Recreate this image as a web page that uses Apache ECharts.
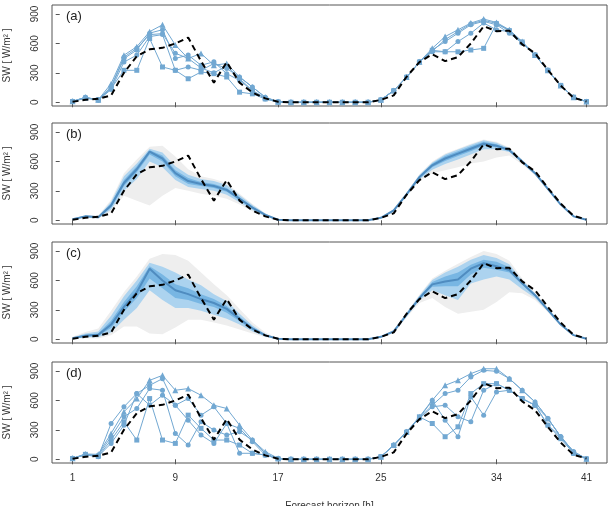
<!DOCTYPE html>
<html>
<head>
<meta charset="utf-8">
<script src="https://cdn.jsdelivr.net/npm/echarts@6/dist/echarts.min.js"></script>
<style>
  html, body { margin: 0; padding: 0; background: #fff; }
  #chart { width: 612px; height: 506px; }
</style>
</head>
<body>
<div id="chart"></div>
<script>
const hours = [1, 2, 3, 4, 5, 6, 7, 8, 9, 10, 11, 12, 13, 14, 15, 16, 17, 18, 19, 20, 21,
  22, 23, 24, 25, 26, 27, 28, 29, 30, 31, 32, 33, 34, 35, 36, 37, 38, 39, 40, 41];
const xTicks = [1, 9, 17, 25, 34, 41];
const yTicks = [0, 300, 600, 900];
const panelLabels = ['(a)', '(b)', '(c)', '(d)'];

// observed SW (dashed black)
const observed = [5, 25, 35, 70, 300, 470, 540, 555, 600, 660, 420, 200, 410, 200, 100, 40, 5,
  0, 0, 0, 0, 0, 0, 0,
  24, 70, 260, 410, 490, 420, 460, 600, 775, 725, 730, 590, 500, 330, 170, 45, 8];

// (a) ensemble members
const membersA = [
  [10, 50, 25, 190, 480, 567, 720, 790, 584, 447, 498, 378, 395, 258, 155, 52, 5,
    0, 0, 0, 0, 0, 0, 0,
    25, 120, 258, 412, 550, 670, 739, 808, 849, 814, 739, 619, 481, 326, 172, 52, 7],
  [10, 45, 25, 150, 445, 533, 705, 740, 447, 481, 378, 412, 292, 223, 120, 34, 3,
    0, 0, 0, 0, 0, 0, 0,
    24, 118, 255, 410, 533, 619, 704, 790, 825, 790, 704, 601, 481, 326, 172, 52, 7],
  [8, 50, 20, 130, 410, 481, 670, 690, 326, 360, 326, 395, 344, 258, 155, 52, 5,
    0, 0, 0, 0, 0, 0, 0,
    24, 120, 258, 412, 515, 515, 619, 704, 808, 739, 720, 610, 481, 326, 172, 52, 7],
  [8, 40, 25, 140, 326, 326, 650, 360, 326, 240, 309, 292, 258, 103, 86, 34, 3,
    0, 0, 0, 0, 0, 0, 0,
    24, 118, 255, 410, 530, 515, 515, 533, 550, 800, 730, 615, 481, 326, 172, 52, 7],
  [10, 50, 25, 160, 460, 550, 690, 700, 500, 447, 350, 300, 370, 240, 120, 45, 4,
    0, 0, 0, 0, 0, 0, 0,
    25, 120, 258, 412, 520, 640, 720, 800, 835, 805, 735, 610, 481, 326, 172, 52, 7]
];

// (b) quantiles
const medB = [10, 40, 30, 150, 380, 520, 700, 630, 480, 400, 370, 350, 310, 220, 130, 55, 5,
  0, 0, 0, 0, 0, 0, 0,
  25, 100, 265, 440, 560, 630, 680, 730, 780, 760, 715, 600, 480, 320, 160, 40, 5];
const hi50B = [12, 45, 35, 170, 410, 550, 715, 660, 510, 430, 390, 370, 330, 235, 140, 60, 6,
  0, 0, 0, 0, 0, 0, 0,
  26, 105, 272, 452, 578, 655, 705, 755, 800, 775, 725, 608, 487, 325, 163, 42, 6];
const lo50B = [8, 35, 25, 130, 350, 490, 670, 600, 450, 370, 350, 330, 290, 205, 120, 50, 4,
  0, 0, 0, 0, 0, 0, 0,
  24, 95, 258, 428, 540, 605, 655, 705, 760, 745, 705, 592, 473, 315, 157, 38, 4];
const hi80B = [14, 50, 40, 190, 450, 580, 730, 690, 550, 465, 420, 400, 360, 255, 155, 68, 8,
  0, 0, 0, 0, 0, 0, 0,
  28, 110, 280, 462, 590, 670, 722, 770, 815, 790, 735, 615, 493, 330, 166, 44, 7];
const lo80B = [6, 30, 20, 110, 300, 420, 600, 540, 410, 340, 320, 300, 260, 185, 105, 42, 2,
  0, 0, 0, 0, 0, 0, 0,
  22, 90, 250, 415, 515, 575, 620, 670, 725, 725, 695, 585, 467, 310, 154, 36, 3];
const hi90B = [16, 55, 45, 210, 480, 620, 750, 760, 650, 520, 450, 420, 380, 270, 165, 72, 10,
  0, 0, 0, 0, 0, 0, 0,
  30, 115, 285, 470, 600, 680, 730, 780, 825, 800, 742, 620, 497, 334, 168, 46, 8];
const lo90B = [4, 25, 15, 90, 250, 200, 150, 250, 330, 300, 270, 250, 220, 160, 90, 35, 0,
  0, 0, 0, 0, 0, 0, 0,
  20, 85, 245, 400, 480, 510, 540, 580, 600, 640, 660, 570, 460, 305, 150, 33, 2];

// (c) quantiles
const medC = [10, 35, 45, 150, 330, 480, 720, 600, 500, 460, 410, 370, 310, 210, 110, 40, 5,
  0, 0, 0, 0, 0, 0, 0,
  25, 80, 250, 420, 560, 590, 610, 720, 775, 745, 705, 570, 450, 300, 150, 42, 5];
const hi50C = [14, 45, 60, 190, 380, 540, 745, 660, 560, 520, 460, 410, 340, 230, 120, 45, 6,
  0, 0, 0, 0, 0, 0, 0,
  27, 85, 258, 430, 585, 640, 680, 760, 810, 790, 735, 585, 458, 305, 153, 44, 6];
const lo50C = [8, 28, 35, 115, 280, 420, 620, 520, 420, 400, 360, 330, 270, 185, 95, 35, 4,
  0, 0, 0, 0, 0, 0, 0,
  23, 75, 242, 410, 535, 540, 540, 660, 730, 710, 680, 555, 442, 295, 147, 40, 4];
const hi80C = [18, 60, 80, 240, 440, 600, 780, 740, 680, 610, 550, 460, 390, 260, 140, 55, 8,
  0, 0, 0, 0, 0, 0, 0,
  30, 92, 268, 445, 605, 680, 740, 810, 860, 830, 765, 600, 466, 312, 157, 46, 7];
const lo80C = [5, 20, 20, 70, 200, 320, 500, 400, 320, 320, 290, 250, 210, 150, 80, 28, 2,
  0, 0, 0, 0, 0, 0, 0,
  20, 68, 232, 395, 500, 450, 400, 570, 610, 640, 610, 510, 420, 285, 140, 37, 3];
const hi90C = [25, 75, 110, 290, 480, 640, 820, 870, 860, 800, 680, 560, 450, 310, 170, 70, 10,
  0, 0, 0, 0, 0, 0, 0,
  32, 96, 275, 455, 620, 700, 770, 840, 900, 870, 800, 620, 475, 318, 160, 48, 8];
const lo90C = [2, 10, 8, 40, 130, 130, 60, 50, 120, 200, 200, 170, 140, 100, 60, 20, 0,
  0, 0, 0, 0, 0, 0, 0,
  18, 62, 222, 370, 420, 330, 260, 280, 300, 380, 480, 470, 400, 275, 135, 34, 2];

// (d) ensemble members
const membersD = [
  [10, 54, 50, 264, 484, 619, 805, 856, 704, 721, 653, 551, 518, 348, 196, 78, 10,
    0, 0, 0, 0, 0, 0, 0,
    27, 145, 281, 433, 602, 754, 805, 873, 923, 923, 822, 704, 585, 416, 230, 78, 5],
  [10, 44, 27, 365, 535, 670, 754, 822, 551, 619, 450, 535, 365, 315, 179, 44, 8,
    0, 0, 0, 0, 0, 0, 0,
    25, 140, 275, 420, 551, 670, 704, 840, 907, 897, 822, 704, 585, 416, 230, 78, 5],
  [8, 50, 40, 230, 433, 518, 721, 704, 264, 145, 382, 298, 247, 281, 196, 61, 5,
    0, 0, 0, 0, 0, 0, 0,
    27, 145, 281, 416, 535, 551, 433, 382, 704, 771, 704, 619, 551, 348, 230, 60, 4],
  [8, 50, 30, 196, 382, 196, 619, 196, 162, 450, 315, 196, 196, 145, 61, 44, 5,
    0, 0, 0, 0, 0, 0, 0,
    27, 140, 275, 433, 365, 230, 331, 670, 771, 771, 704, 619, 551, 348, 210, 60, 4],
  [10, 44, 30, 162, 348, 670, 551, 653, 551, 399, 247, 162, 365, 61, 61, 44, 5,
    0, 0, 0, 0, 0, 0, 0,
    25, 145, 281, 420, 602, 399, 230, 636, 450, 687, 704, 619, 551, 416, 230, 78, 5]
];

const memberSymbols = ['triangle', 'circle', 'circle', 'rect', 'circle'];
const memberColor = '#72a8d2';
const panelTops = [5, 123, 242, 362];
const panelHeight = 101;
const font = 'Liberation Sans';

const pairs = arr => arr.map((v, i) => [hours[i], v]);

const grids = panelTops.map(t => ({
  left: 52, right: 5, top: t, height: panelHeight,
  outerBoundsMode: 'none', containLabel: false,
  show: true, borderColor: '#555', borderWidth: 1
}));

const xAxes = panelTops.map((t, i) => ({
  type: 'value', gridIndex: i, min: -0.6, max: 42.6,
  axisLine: { show: false },
  splitLine: { show: false },
  axisTick: { show: true, length: 5, customValues: xTicks, lineStyle: { color: '#555' } },
  axisLabel: {
    show: i === 3, customValues: xTicks, margin: 10,
    fontFamily: font, fontSize: 10, color: '#333'
  },
  name: i === 3 ? 'Forecast horizon [h]' : '',
  nameLocation: 'middle', nameGap: 38,
  nameTextStyle: { fontFamily: font, fontSize: 10, color: '#333' }
}));

const yAxes = panelTops.map((t, i) => ({
  type: 'value', gridIndex: i, min: -38, max: 992,
  axisLine: { show: false },
  splitLine: { show: false },
  axisTick: { show: true, length: 4, customValues: yTicks, lineStyle: { color: '#555' } },
  axisLabel: {
    customValues: yTicks, rotate: 90, margin: 12,
    fontFamily: font, fontSize: 10, color: '#333'
  },
  name: 'SW [ W/m\u00B2 ]', nameLocation: 'middle', nameGap: 40, nameRotate: 90,
  nameTextStyle: { fontFamily: font, fontSize: 10, color: '#333' }
}));

const series = [];

// quantile band drawn as one polygon through the axis scales
function addBand(idx, lo, hi, color) {
  series.push({
    type: 'custom', xAxisIndex: idx, yAxisIndex: idx, silent: true,
    data: hours.map((h, i) => [h, lo[i], hi[i]]),
    encode: { x: 0, y: [1, 2] },
    renderItem: (params, api) => {
      if (params.dataIndex !== 0) return null;
      const top = hours.map((h, i) => api.coord([h, hi[i]]));
      const bot = hours.map((h, i) => api.coord([h, lo[i]])).reverse();
      return {
        type: 'polygon',
        shape: { points: top.concat(bot) },
        style: { fill: color }
      };
    }
  });
}

function addFan(idx, q) {
  addBand(idx, q.lo90, q.hi90, '#eeeeee');
  addBand(idx, q.lo80, q.hi80, '#acd3ef');
  addBand(idx, q.lo50, q.hi50, '#78b6e3');
  series.push({
    type: 'line', xAxisIndex: idx, yAxisIndex: idx, silent: true, symbol: 'none',
    lineStyle: { color: '#4f8cc0', width: 2 }, data: pairs(q.med)
  });
}

function addMembers(idx, members) {
  members.forEach((m, k) => {
    series.push({
      type: 'line', xAxisIndex: idx, yAxisIndex: idx, silent: true,
      symbol: memberSymbols[k], symbolSize: k === 0 ? 6 : 5, showSymbol: true,
      lineStyle: { color: memberColor, width: 1 },
      itemStyle: { color: memberColor },
      data: pairs(m)
    });
  });
}

addMembers(0, membersA);
addFan(1, { med: medB, lo50: lo50B, hi50: hi50B, lo80: lo80B, hi80: hi80B, lo90: lo90B, hi90: hi90B });
addFan(2, { med: medC, lo50: lo50C, hi50: hi50C, lo80: lo80C, hi80: hi80C, lo90: lo90C, hi90: hi90C });
addMembers(3, membersD);

for (let i = 0; i < 4; i++) {
  series.push({
    type: 'line', xAxisIndex: i, yAxisIndex: i, silent: true, symbol: 'none', z: 5,
    lineStyle: { color: '#000', width: 2, type: [6, 4] },
    data: pairs(observed)
  });
}

const chart = echarts.init(document.getElementById('chart'), null, { renderer: 'canvas' });
chart.setOption({
  animation: false,
  backgroundColor: '#fff',
  grid: grids,
  xAxis: xAxes,
  yAxis: yAxes,
  series: series,
  graphic: panelLabels.map((txt, i) => ({
    type: 'text', left: 66, top: panelTops[i] + 5,
    style: { text: txt, font: '13px "Liberation Sans"', fill: '#222' }
  }))
});
</script>
</body>
</html>
